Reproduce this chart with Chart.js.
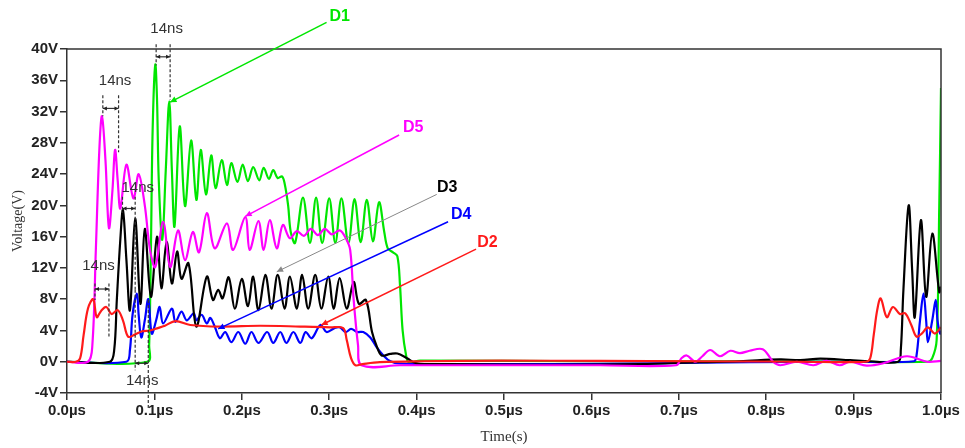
<!DOCTYPE html>
<html>
<head>
<meta charset="utf-8">
<script src="https://cdn.jsdelivr.net/npm/chart.js"></script>
<style>
html, body { margin:0; padding:0; background:#fff; }
</style>
</head>
<body>
<canvas id="chart" width="965" height="448"></canvas>
<script>
// time in µs, voltage in V
var d2 = [[0,0],[0.010,0],[0.015,0.45],[0.019,3.4],[0.024,6.8],[0.030,8.0],[0.034,5.7],[0.039,6.5],[0.045,7.0],[0.051,6.1],[0.058,6.6],[0.064,5.3],[0.070,3.2],[0.078,3.5],[0.086,3.9],[0.095,4.0],[0.104,4.3],[0.112,4.6],[0.124,5.2],[0.141,4.7],[0.175,4.5],[0.221,4.6],[0.267,4.5],[0.301,4.4],[0.316,4.3],[0.320,2.8],[0.325,0.45],[0.330,-0.45],[0.338,-0.3],[0.358,-0.06],[0.404,0.06],[0.495,0.13],[0.610,0.1],[0.724,0.06],[0.839,0],[0.914,0],[0.919,0.45],[0.923,3.4],[0.927,6.6],[0.931,8.1],[0.938,5.7],[0.945,7.0],[0.953,6.1],[0.959,6.2],[0.966,4.7],[0.972,3.2],[0.978,3.6],[0.985,4.4],[0.993,3.6],[1.000,4.4]];

var d5 = [[0,0],[0.024,0],[0.029,2.1],[0.033,14.3],[0.037,27.1],[0.040,31.4],[0.044,25.8],[0.048,17.1],[0.052,21.9],[0.055,27.1],[0.058,23.2],[0.061,19.6],[0.068,25.2],[0.076,20.9],[0.082,24.0],[0.089,20.0],[0.095,14.3],[0.101,12.1],[0.110,17.9],[0.118,12.1],[0.127,16.8],[0.135,13.0],[0.144,16.6],[0.151,14.0],[0.160,19.0],[0.169,14.5],[0.183,17.7],[0.190,14.3],[0.204,18.5],[0.209,14.3],[0.219,18.0],[0.225,14.3],[0.232,18.1],[0.240,14.5],[0.247,17.5],[0.255,15.8],[0.263,16.7],[0.271,16.1],[0.279,17.0],[0.287,16.2],[0.295,17.0],[0.303,16.3],[0.312,16.8],[0.319,15.8],[0.324,14.3],[0.328,7.9],[0.333,2.1],[0.337,-0.45],[0.381,-0.45],[0.610,-0.45],[0.697,-0.45],[0.703,0.45],[0.709,0.8],[0.719,0],[0.727,0.7],[0.736,1.5],[0.747,0.7],[0.759,1.4],[0.770,1.1],[0.781,1.4],[0.796,1.6],[0.808,0],[0.816,-0.45],[0.835,0],[0.854,-0.45],[0.869,0.1],[0.884,-0.45],[0.896,0],[0.915,-0.5],[0.934,-0.2],[0.961,0.7],[0.984,0],[1.000,0.1]];

var d3 = [[0,0],[0.049,0],[0.054,1.5],[0.057,7.9],[0.061,15.6],[0.064,19.4],[0.068,13.0],[0.072,6.6],[0.078,18.3],[0.084,7.4],[0.089,17.0],[0.096,8.3],[0.103,16.0],[0.108,9.4],[0.114,15.3],[0.120,10.0],[0.126,14.1],[0.131,10.6],[0.139,12.6],[0.148,4.5],[0.160,10.9],[0.167,7.9],[0.173,9.2],[0.178,8.1],[0.185,10.8],[0.192,6.8],[0.200,10.6],[0.207,7.1],[0.213,10.9],[0.219,6.6],[0.227,11.1],[0.234,6.8],[0.241,11.1],[0.249,6.8],[0.255,10.9],[0.263,6.8],[0.269,11.1],[0.276,6.8],[0.284,11.1],[0.291,6.8],[0.299,10.9],[0.305,6.8],[0.312,10.7],[0.320,6.8],[0.328,10.2],[0.334,7.4],[0.342,7.9],[0.349,3.8],[0.354,2.1],[0.360,0.8],[0.370,1.0],[0.378,1.05],[0.389,0.45],[0.400,-0.2],[0.438,-0.3],[0.553,-0.4],[0.656,-0.3],[0.724,-0.06],[0.770,0.06],[0.816,0.3],[0.839,0.2],[0.862,0.4],[0.896,0.2],[0.919,0.06],[0.951,0],[0.954,1.5],[0.957,9.2],[0.963,20.0],[0.967,11.7],[0.970,5.7],[0.977,18.1],[0.983,8.3],[0.990,16.4],[0.998,8.9],[1.000,9.6]];

var d4 = [[0,0],[0.068,0],[0.072,1.5],[0.075,6.0],[0.080,8.7],[0.082,6.0],[0.085,3.1],[0.089,5.3],[0.093,8.0],[0.097,3.6],[0.102,5.3],[0.106,7.0],[0.110,4.9],[0.120,6.8],[0.124,5.1],[0.131,6.4],[0.137,5.3],[0.145,6.2],[0.148,5.3],[0.154,6.0],[0.160,4.9],[0.164,5.6],[0.169,4.5],[0.175,3.0],[0.181,3.8],[0.188,2.5],[0.196,3.8],[0.204,2.3],[0.211,3.8],[0.219,2.4],[0.229,3.8],[0.236,2.4],[0.244,3.8],[0.251,2.4],[0.259,3.8],[0.267,2.4],[0.273,3.8],[0.280,3.0],[0.290,4.7],[0.297,3.8],[0.306,4.3],[0.312,4.4],[0.319,3.8],[0.325,4.2],[0.332,3.8],[0.339,3.8],[0.347,3.1],[0.354,1.9],[0.362,0.8],[0.370,0.06],[0.381,-0.23],[0.438,-0.3],[0.553,-0.3],[0.667,-0.2],[0.781,-0.06],[0.896,0],[0.969,0.06],[0.972,0.8],[0.976,5.3],[0.980,8.7],[0.983,5.3],[0.985,2.5],[0.990,5.3],[0.994,7.9],[0.996,5.3],[0.999,3.6],[1.000,4.0]];

var d1 = [[0,0],[0.092,0],[0.094,2.1],[0.096,14.3],[0.098,29.7],[0.101,38.0],[0.103,33.5],[0.105,23.2],[0.109,15.6],[0.113,24.5],[0.117,33.3],[0.120,24.5],[0.123,17.3],[0.129,30.1],[0.135,19.9],[0.142,28.3],[0.148,20.7],[0.153,27.1],[0.159,21.4],[0.165,26.4],[0.170,22.2],[0.177,25.8],[0.183,22.6],[0.188,25.4],[0.195,23.0],[0.201,25.2],[0.207,23.1],[0.213,24.9],[0.220,23.2],[0.225,24.8],[0.231,23.4],[0.236,24.5],[0.241,23.5],[0.246,23.7],[0.249,22.8],[0.253,20.0],[0.256,16.6],[0.261,15.2],[0.270,21.0],[0.278,15.2],[0.285,21.0],[0.292,15.2],[0.300,20.9],[0.307,15.2],[0.314,20.9],[0.322,15.2],[0.329,20.8],[0.336,15.3],[0.343,20.7],[0.350,15.4],[0.357,20.4],[0.363,16.6],[0.367,14.5],[0.373,14.0],[0.378,13.5],[0.381,9.8],[0.384,4.0],[0.388,0.8],[0.391,-0.06],[0.404,0.13],[0.610,0.06],[0.839,0.06],[0.985,0],[0.990,0.45],[0.995,2.75],[0.998,19.8],[1.000,35.0]];

var seriesNames = ["D2", "D5", "D3", "D4", "D1"];
var seriesColors = ["#ff1a1a", "#ff00ff", "#000000", "#0000ff", "#00e600"];

var xTickValues = [0, 0.1, 0.2, 0.3, 0.4, 0.5, 0.6, 0.7, 0.8, 0.9, 1.0];
var xTickLabels = ["0.0µs","0.1µs","0.2µs","0.3µs","0.4µs","0.5µs","0.6µs","0.7µs","0.8µs","0.9µs","1.0µs"];
var yTickValues = [-4, 0, 4, 8, 12, 16, 20, 24, 28, 32, 36, 40];
var yTickLabels = ["-4V","0V","4V","8V","12V","16V","20V","24V","28V","32V","36V","40V"];

// labels with leader lines, in data units: label pos, line start, line end
var leaders = [
    {text: "D1", color: "#00e600", line: "#00e600", w: 1.5, at: [0.312, 44.2], from: [0.297, 43.4], to: [0.118, 33.2]},
    {text: "D5", color: "#ff00ff", line: "#ff00ff", w: 1.5, at: [0.396, 29.9], from: [0.380, 29.0], to: [0.204, 18.6]},
    {text: "D3", color: "#000000", line: "#888888", w: 1, at: [0.435, 22.3], from: [0.423, 21.4], to: [0.240, 11.5]},
    {text: "D4", color: "#0000ff", line: "#0000ff", w: 1.5, at: [0.451, 18.8], from: [0.436, 17.9], to: [0.173, 4.2]},
    {text: "D2", color: "#ff1a1a", line: "#ff1a1a", w: 1.5, at: [0.481, 15.3], from: [0.468, 14.4], to: [0.291, 4.7]}
];

// 14ns marks: text pos, two dashed lines [t, vTop, vBottom], arrow level
var spans = [
    {at: [0.114, 42.6], a: [0.102, 40.6, 37.9], b: [0.118, 40.6, 33.5], v: 39.0},
    {at: [0.055, 35.9], a: [0.041, 34.1, 31.4], b: [0.059, 34.1, 26.8], v: 32.4},
    {at: [0.081, 22.3], a: [0.0635, 21.1, 19.1], b: [0.078, 21.1, 9.2], v: 19.6},
    {at: [0.086, -2.4], a: [0.078, 9.2, -1.1], b: [0.093, 7.9, -6.0], v: -0.2},
    {at: [0.036, 12.3], a: [0.032, 10.0, 7.9], b: [0.048, 10.0, 3.0], v: 9.3}
];

function arrowHead(ctx, x1, y1, x2, y2, size) {
    var ang = Math.atan2(y2 - y1, x2 - x1);
    ctx.beginPath();
    ctx.moveTo(x2, y2);
    ctx.lineTo(x2 - size * Math.cos(ang - 0.45), y2 - size * Math.sin(ang - 0.45));
    ctx.lineTo(x2 - size * Math.cos(ang + 0.45), y2 - size * Math.sin(ang + 0.45));
    ctx.closePath();
    ctx.fill();
}

var overlay = {
    id: "overlay",
    afterDraw: function(chart) {
        var ctx = chart.ctx;
        var xs = chart.scales.x, ys = chart.scales.y, a = chart.chartArea;
        var px = function(t) { return xs.getPixelForValue(t); };
        var py = function(v) { return ys.getPixelForValue(v); };
        ctx.save();

        ctx.strokeStyle = "#333";
        ctx.lineWidth = 1.5;
        ctx.beginPath();
        ctx.moveTo(a.left, a.top);
        ctx.lineTo(a.right, a.top);
        ctx.lineTo(a.right, a.bottom);
        ctx.stroke();

        ctx.textAlign = "center";
        ctx.textBaseline = "middle";
        for (var i = 0; i < leaders.length; i++) {
            var l = leaders[i];
            var x1 = px(l.from[0]), y1 = py(l.from[1]), x2 = px(l.to[0]), y2 = py(l.to[1]);
            ctx.strokeStyle = l.line;
            ctx.fillStyle = l.line;
            ctx.lineWidth = l.w;
            ctx.beginPath();
            ctx.moveTo(x1, y1);
            ctx.lineTo(x2, y2);
            ctx.stroke();
            arrowHead(ctx, x1, y1, x2, y2, 7);
            ctx.fillStyle = l.color;
            ctx.font = "bold 16px 'Liberation Sans', Arial, sans-serif";
            ctx.fillText(l.text, px(l.at[0]), py(l.at[1]));
        }

        for (var j = 0; j < spans.length; j++) {
            var s = spans[j];
            ctx.strokeStyle = "#333";
            ctx.fillStyle = "#222";
            ctx.lineWidth = 1.2;
            ctx.setLineDash([3, 2]);
            ctx.beginPath();
            ctx.moveTo(px(s.a[0]), py(s.a[1]));
            ctx.lineTo(px(s.a[0]), py(s.a[2]));
            ctx.moveTo(px(s.b[0]), py(s.b[1]));
            ctx.lineTo(px(s.b[0]), py(s.b[2]));
            ctx.stroke();
            ctx.setLineDash([]);
            var ax = px(s.a[0]), bx = px(s.b[0]), ay = py(s.v), mx = (ax + bx) / 2;
            ctx.beginPath();
            ctx.moveTo(ax, ay);
            ctx.lineTo(bx, ay);
            ctx.stroke();
            arrowHead(ctx, mx, ay, ax, ay, 4.5);
            arrowHead(ctx, mx, ay, bx, ay, 4.5);
            ctx.fillStyle = "#333";
            ctx.font = "15px 'Liberation Sans', Arial, sans-serif";
            ctx.fillText("14ns", px(s.at[0]), py(s.at[1]));
        }
        ctx.restore();
    }
};

var allSeries = [d2, d5, d3, d4, d1];
var datasets = [];
for (var k = 0; k < allSeries.length; k++) {
    datasets.push({
        label: seriesNames[k],
        data: allSeries[k].map(function(p) { return {x: p[0], y: p[1]}; }),
        borderColor: seriesColors[k],
        borderWidth: 2.2,
        pointRadius: 0,
        tension: 0.35,
        fill: false
    });
}

var elem = document.getElementById("chart").getContext("2d");
const newChart = new Chart(elem, {
    type: "line",
    data: { datasets: datasets },
    options: {
        responsive: false,
        animation: false,
        layout: { padding: { left: 0, right: 24, top: 49, bottom: 0 } },
        plugins: {
            legend: { display: false },
            tooltip: { enabled: false }
        },
        scales: {
            x: {
                type: "linear",
                min: 0,
                max: 1,
                afterFit: function(s) { s.height = 55; },
                afterBuildTicks: function(s) { s.ticks = xTickValues.map(function(v) { return {value: v}; }); },
                border: { color: "#333", width: 1.5 },
                grid: { drawOnChartArea: false, tickLength: 7, color: "#333", lineWidth: 1.5 },
                ticks: {
                    color: "#222",
                    padding: 2,
                    maxRotation: 0,
                    font: { family: "'Liberation Sans Narrow', 'Liberation Sans', Arial, sans-serif", size: 15, weight: "bold" },
                    callback: function(v, i) { return xTickLabels[i]; }
                },
                title: {
                    display: true,
                    text: "Time(s)",
                    color: "#333",
                    padding: { top: 0, bottom: 2 },
                    font: { family: "'Liberation Serif', 'Times New Roman', serif", size: 15 }
                }
            },
            y: {
                min: -4,
                max: 40,
                afterFit: function(s) { s.width = 67; },
                afterBuildTicks: function(s) { s.ticks = yTickValues.map(function(v) { return {value: v}; }); },
                border: { color: "#333", width: 1.5 },
                grid: { drawOnChartArea: false, tickLength: 7, color: "#333", lineWidth: 1.5 },
                ticks: {
                    color: "#222",
                    padding: 2,
                    font: { family: "'Liberation Sans Narrow', 'Liberation Sans', Arial, sans-serif", size: 15, weight: "bold" },
                    callback: function(v, i) { return yTickLabels[i]; }
                },
                title: {
                    display: true,
                    text: "Voltage(V)",
                    color: "#333",
                    padding: { top: 10, bottom: 0 },
                    font: { family: "'Liberation Serif', 'Times New Roman', serif", size: 14 }
                }
            }
        }
    },
    plugins: [overlay]
});
</script>
</body>
</html>
